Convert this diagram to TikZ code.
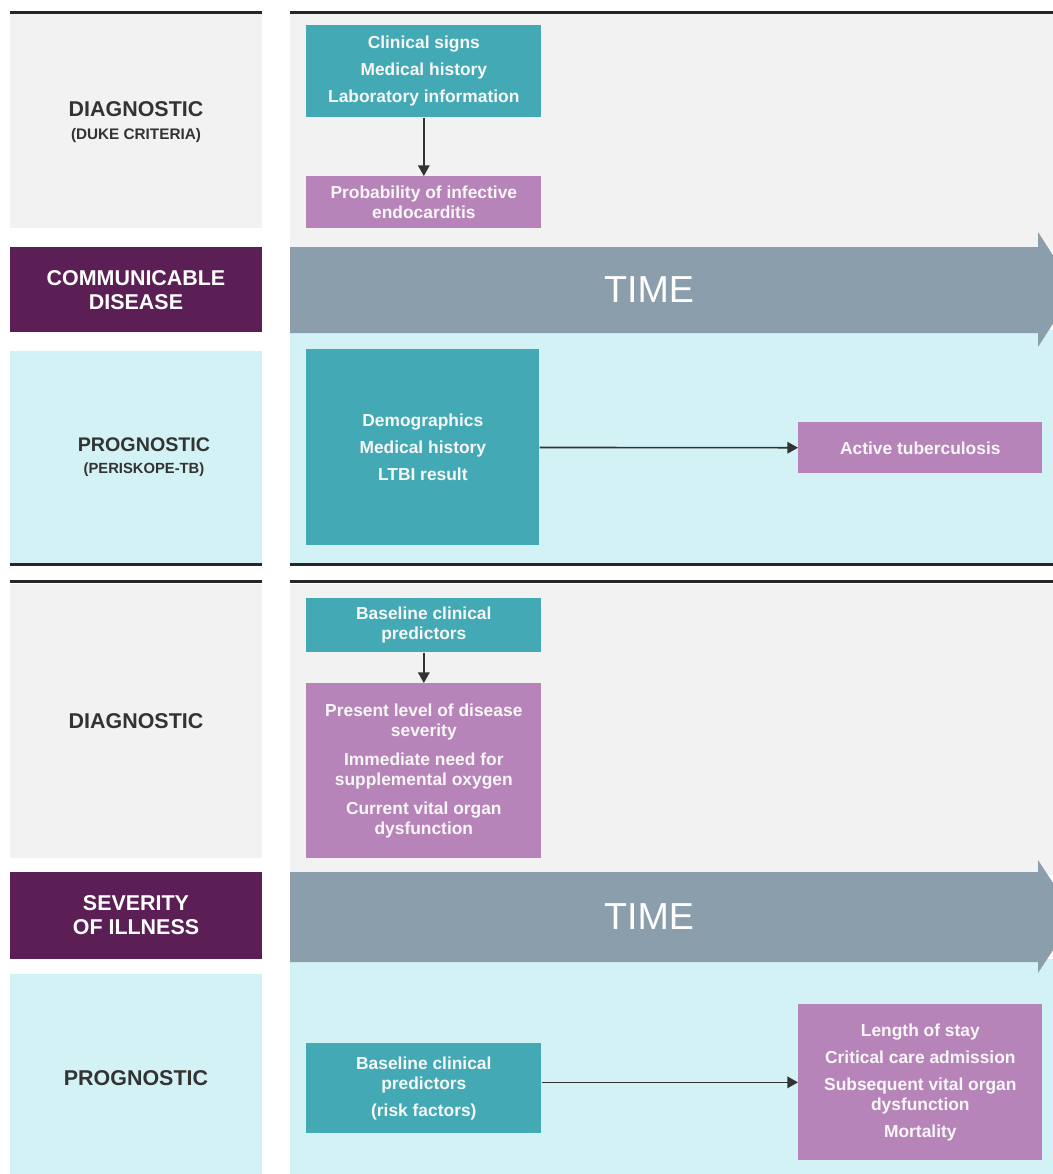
\documentclass[tikz,border=0pt]{standalone}
\usepackage{fontspec}
\setmainfont{Liberation Sans}
\usetikzlibrary{arrows.meta,positioning}

\definecolor{panelgray}{HTML}{F2F2F2}
\definecolor{panelcyan}{HTML}{D3F2F5}
\definecolor{boxteal}{HTML}{43AAB5}
\definecolor{boxpurple}{HTML}{B784B9}
\definecolor{bandpurple}{HTML}{5B1F55}
\definecolor{timegray}{HTML}{8B9EAB}
\definecolor{labelgray}{HTML}{333333}
\definecolor{boxtext}{HTML}{F7F7F7}

\tikzset{
  infobox/.style={anchor=north west, inner sep=0pt, align=center, text=boxtext,
    font=\bfseries\fontsize{9.9}{11.4}\selectfont},
  tealbox/.style={infobox, fill=boxteal},
  purplebox/.style={infobox, fill=boxpurple},
  rowlabel/.style={align=center, text=labelgray, font=\bfseries\fontsize{12.2}{13}\selectfont},
  bandlabel/.style={align=center, text=white, font=\bfseries\fontsize{12.2}{13.8}\selectfont},
  timelabel/.style={text=white, font=\fontsize{21.4}{24}\selectfont},
  flow/.style={draw=labelgray, line width=0.9pt, -{Triangle[length=6pt,width=6.5pt]}}
}

\begin{document}
\begin{tikzpicture}[x=0.02cm, y=-0.02cm]
    \useasboundingbox (0,0) rectangle (1053,1174);
    \clip (0,0) rectangle (1053,1174);
    % Communicable disease panels
    \fill[panelgray] (10,14) rectangle (262,228);
    \fill[panelgray] (290,14) rectangle (1053,250);
    \fill[bandpurple] (10,247) rectangle (262,332);
    \fill[panelcyan] (10,351) rectangle (262,563);
    \fill[panelcyan] (290,330) rectangle (1053,563);
    \fill[black!85] (10,11) rectangle (262,14);
    \fill[black!85] (290,11) rectangle (1053,14);
    \fill[black!85] (10,563) rectangle (262,566);
    \fill[black!85] (290,563) rectangle (1053,566);
    % Time arrow
    \fill[timegray] (290,247) -- (1038,247) -- (1038,232) -- (1075,289.5) -- (1038,347) -- (1038,333) -- (290,333) -- cycle;
    \node[timelabel] (time1) at (649,290) {TIME};
    % Row labels
    \node[rowlabel] (diag1) at (136,122) {DIAGNOSTIC\\{\fontsize{8.7}{10}\selectfont (DUKE CRITERIA)}};
    \node[bandlabel] (comm) at (136,290) {COMMUNICABLE\\DISEASE};
    \node[rowlabel, font=\bfseries\fontsize{11.2}{12.4}\selectfont] (prog1) at (144,457)
        {PROGNOSTIC\\{\fontsize{8.4}{10}\selectfont (PERISKOPE-TB)}};
    % Boxes
    \node[tealbox, minimum width=4.70cm, minimum height=1.84cm] (cues1) at (306,25)
        {Clinical signs\\[4pt]Medical history\\[4pt]Laboratory information};
    \node[purplebox, minimum width=4.70cm, minimum height=1.04cm] (prob1) at (306,176)
        {Probability of infective\\endocarditis};
    \node[tealbox, minimum width=4.66cm, minimum height=3.92cm] (cues2) at (306,349)
        {Demographics\\[4pt]Medical history\\[4pt]LTBI result};
    \node[purplebox, minimum width=4.88cm, minimum height=1.02cm] (tb) at (798,422)
        {Active tuberculosis};
    % Connectors
    \draw[flow] (cues1) -- (prob1);
    \draw[flow] (cues2) -- (tb);

    % Severity of illness panels
    \fill[panelgray] (10,584) rectangle (262,858);
    \fill[panelgray] (290,584) rectangle (1053,875);
    \fill[bandpurple] (10,872) rectangle (262,959);
    \fill[panelcyan] (10,974) rectangle (262,1174);
    \fill[panelcyan] (290,959) rectangle (1053,1174);
    \fill[black!85] (10,580) rectangle (262,583);
    \fill[black!85] (290,580) rectangle (1053,583);
    % Time arrow
    \fill[timegray] (290,872) -- (1038,872) -- (1038,860) -- (1075,916.5) -- (1038,973) -- (1038,962) -- (290,962) -- cycle;
    \node[timelabel] (time2) at (649,917) {TIME};
    % Row labels
    \node[rowlabel] (diag2) at (136,721) {DIAGNOSTIC};
    \node[bandlabel] (sevl) at (136,915) {SEVERITY\\OF ILLNESS};
    \node[rowlabel] (prog2) at (136,1078) {PROGNOSTIC};
    % Boxes
    \node[tealbox, minimum width=4.70cm, minimum height=1.08cm] (cues3) at (306,598)
        {Baseline clinical\\predictors};
    \node[purplebox, minimum width=4.70cm, minimum height=3.50cm] (sev) at (306,683)
        {Present level of disease\\severity\\[5pt]Immediate need for\\supplemental oxygen\\[5pt]Current vital organ\\dysfunction};
    \node[tealbox, minimum width=4.70cm, minimum height=1.80cm] (cues4) at (306,1043)
        {Baseline clinical\\predictors\\[4pt](risk factors)};
    \node[purplebox, minimum width=4.88cm, minimum height=3.12cm] (out4) at (798,1004)
        {Length of stay\\[4pt]Critical care admission\\[4pt]Subsequent vital organ\\dysfunction\\[4pt]Mortality};
    % Connectors
    \draw[flow] (cues3) -- (sev);
    \draw[flow] (cues4.east |- out4.west) -- (out4.west);
\end{tikzpicture}
\end{document}
